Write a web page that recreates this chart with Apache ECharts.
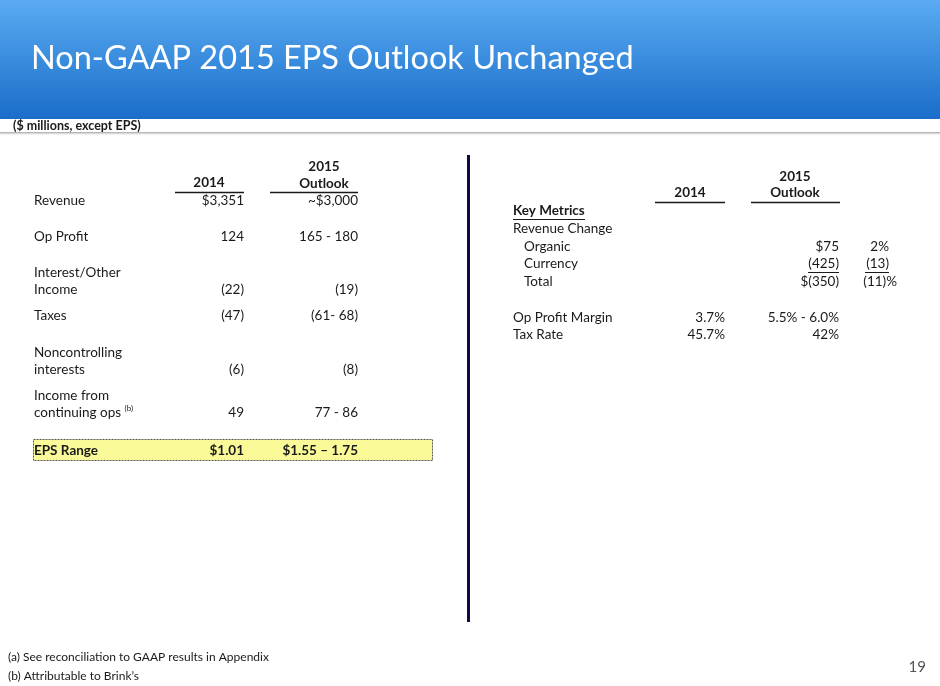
<!DOCTYPE html>
<html>
<head>
<meta charset="utf-8">
<script src="https://cdn.jsdelivr.net/npm/echarts@6/dist/echarts.min.js"></script>
<style>
  html, body { margin: 0; padding: 0; background: #fff; }
  #chart { width: 940px; height: 686px; }
</style>
</head>
<body>
<div id="chart"></div>
<script>
// --- data ---
var title = 'Non-GAAP 2015 EPS Outlook Unchanged';
var unitNote = '($ millions, except EPS)';
var colHeads = ['2014', '2015\nOutlook'];

var leftLabels = ['Revenue', 'Op Profit', 'Interest/Other\nIncome', 'Taxes', 'Noncontrolling\ninterests', 'Income from\ncontinuing ops'];
var left2014 = ['$3,351', '124', '(22)', '(47)', '(6)', '49'];
var left2015 = ['~$3,000', '165 - 180', '(19)', '(61- 68)', '(8)', '77 - 86'];
var epsRow = ['EPS Range', '$1.01', '$1.55 \u2013 1.75'];

var rightLabels = ['Revenue Change', 'Organic', 'Currency', 'Total', 'Op Profit Margin', 'Tax Rate'];
var right2014 = ['', '', '', '', '3.7%', '45.7%'];
var right2015 = ['', '$75', '(425)', '$(350)', '5.5% - 6.0%', '42%'];
var rightPct = ['', '2%', '(13)', '(11)%', '', ''];

var footnotes = ['(a) See reconciliation to GAAP results in Appendix', '(b) Attributable to Brink\u2019s'];
var pageNo = '19';

// --- layout ---
var font = 'Lato, "Open Sans", sans-serif';
var ink = '#1a1a1a';
var leftRowY = [201, 237, 281, 316, 361, 404];   // middle of each (multi-line) row
var rightRowY = [229, 247, 264, 282, 318, 335];
var rightIndent = [false, true, true, true, false, false];

var chart = echarts.init(document.getElementById('chart'), null, { renderer: 'canvas' });
var els = [];

function txt(x, y, s, opt) {
  opt = opt || {};
  els.push({
    type: 'text', x: x, y: y, silent: true,
    style: {
      text: s, fill: opt.fill || ink,
      font: (opt.bold ? 'bold ' : '') + (opt.size || 13.5) + 'px ' + font,
      textAlign: opt.align || 'left', textVerticalAlign: opt.valign || 'middle',
      lineHeight: opt.lh || 17, rich: opt.rich
    }
  });
}
function line(x1, y1, x2, y2, w, c, dash) {
  els.push({ type: 'line', silent: true, shape: { x1: x1, y1: y1, x2: x2, y2: y2 },
    style: { stroke: c || ink, lineWidth: w || 1, lineDash: dash } });
}

// header band
els.push({ type: 'rect', shape: { x: 0, y: 0, width: 940, height: 119 }, silent: true,
  style: { fill: new echarts.graphic.LinearGradient(0, 0, 0, 1, [
    { offset: 0, color: '#5aabf2' }, { offset: 1, color: '#1a6dc9' }]) } });
els.push({ type: 'rect', shape: { x: 0, y: 132, width: 940, height: 4 }, silent: true,
  style: { fill: new echarts.graphic.LinearGradient(0, 0, 0, 1, [
    { offset: 0, color: '#a0a0a0' }, { offset: 1, color: 'rgba(255,255,255,0)' }]) } });
txt(31, 59, title, { size: 32.5, fill: '#ffffff' });
txt(13, 126, unitNote, { size: 12.5, bold: true });

// left table headers
txt(209, 183, colHeads[0], { bold: true, align: 'center' });
txt(324, 175, colHeads[1], { bold: true, align: 'center', lh: 17 });
line(175, 192.5, 244, 192.5, 1.3);
line(270, 192.5, 358, 192.5, 1.3);

leftLabels.forEach(function (lab, i) {
  var y = leftRowY[i];
  var multi = lab.indexOf('\n') >= 0;
  if (i === leftLabels.length - 1) {
    txt(34, y, '{n|' + lab.split('\n')[0] + '}\n{n|' + lab.split('\n')[1] + ' }{s|(b)}',
      { rich: { n: { font: '13.5px ' + font, fill: ink, lineHeight: 17 },
                s: { font: '8px ' + font, fill: ink, verticalAlign: 'top', padding: [0, 0, 6, 0] } } });
  } else {
    txt(34, y, lab);
  }
  var vy = multi ? y + 8.5 : y;
  txt(244, vy, left2014[i], { align: 'right' });
  txt(358, vy, left2015[i], { align: 'right' });
});

// EPS highlight
els.push({ type: 'rect', shape: { x: 33.5, y: 439.5, width: 399, height: 21 }, silent: true,
  style: { fill: '#fafa98', stroke: '#555', lineWidth: 1, lineDash: [2, 1] } });
txt(34, 451, epsRow[0], { bold: true });
txt(244, 451, epsRow[1], { bold: true, align: 'right' });
txt(358, 451, epsRow[2], { bold: true, align: 'right' });

// divider
els.push({ type: 'rect', shape: { x: 467, y: 155, width: 3, height: 467 }, silent: true,
  style: { fill: '#0c0c4a' } });

// right table
txt(690, 193, colHeads[0], { bold: true, align: 'center' });
txt(795, 185, colHeads[1], { bold: true, align: 'center', lh: 16 });
line(655, 202.5, 725, 202.5, 1.3);
line(751, 202.5, 840, 202.5, 1.3);
txt(513, 211, 'Key Metrics', { bold: true });
line(513, 219.5, 585, 219.5, 1);

rightLabels.forEach(function (lab, i) {
  var y = rightRowY[i];
  txt(rightIndent[i] ? 524 : 513, y, lab);
  if (right2014[i]) txt(725, y, right2014[i], { align: 'right' });
  if (right2015[i]) txt(839, y, right2015[i], { align: 'right' });
  if (rightPct[i]) txt(rightPct[i] === '(11)%' ? 897 : 889, y, rightPct[i], { align: 'right' });
});
// underlines on currency row
line(808, 272.5, 839, 272.5, 1);
line(865, 272.5, 889, 272.5, 1);

// footnotes
txt(8, 657, footnotes[0], { size: 12 });
txt(8, 676, footnotes[1], { size: 12 });
txt(926, 667, pageNo, { size: 15, fill: '#555', align: 'right' });

chart.setOption({ animation: false, graphic: { elements: els } });
window.addEventListener('resize', function () { chart.resize(); });
</script>
</body>
</html>
